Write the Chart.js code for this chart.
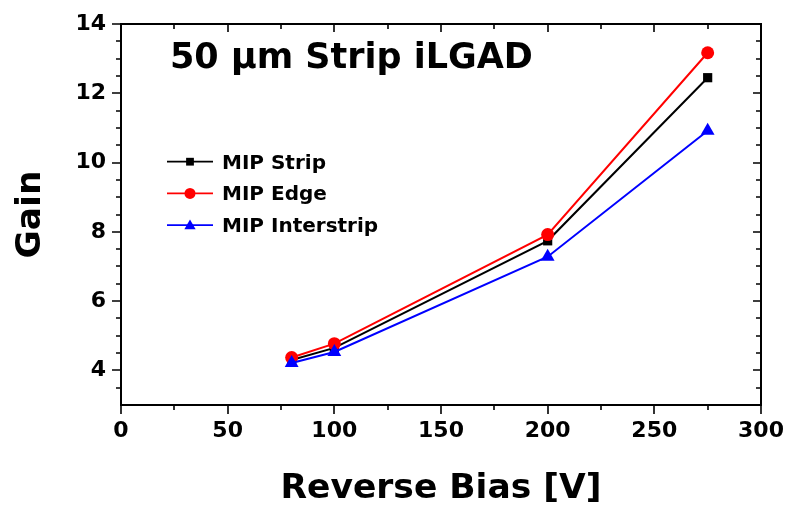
<!DOCTYPE html>
<html>
<head>
<meta charset="utf-8">
<script src="https://cdn.jsdelivr.net/npm/chart.js@4"></script>
<style>
html,body{margin:0;padding:0;background:#fff;}
#wrap{width:791px;height:511px;position:relative;}
</style>
</head>
<body>
<div id="wrap"><canvas id="c" width="791" height="511"></canvas></div>
<script>
// ---- data ----
const biasV = [80, 100, 200, 275];
const gainStrip = [4.30, 4.65, 7.74, 12.45];
const gainEdge = [4.37, 4.77, 7.92, 13.17];
const gainInterstrip = [4.21, 4.53, 7.28, 10.92];
const seriesNames = ['MIP Strip', 'MIP Edge', 'MIP Interstrip'];
const xTickValues = [0, 50, 100, 150, 200, 250, 300];
const xMinorValues = [25, 75, 125, 175, 225, 275];
const yTickValues = [4, 6, 8, 10, 12, 14];
const yMinorValues = [3.5, 4.5, 5, 5.5, 6.5, 7, 7.5, 8.5, 9, 9.5, 10.5, 11, 11.5, 12.5, 13, 13.5];
const chartTitle = '50 µm Strip iLGAD';
const xTitle = 'Reverse Bias [V]';
const yTitle = 'Gain';

const FONT = "'DejaVu Sans', sans-serif";

function pts(ys){ return biasV.map((x,i)=>({x:x, y:ys[i]})); }

const framePlugin = {
  id: 'frame',
  afterDraw(chart){
    const {ctx, chartArea:a, scales:{x, y}} = chart;
    ctx.save();
    ctx.strokeStyle = '#000';
    ctx.lineWidth = 2;
    ctx.strokeRect(a.left, a.top, a.right - a.left, a.bottom - a.top);
    ctx.lineWidth = 1.6;
    ctx.beginPath();
    const tick = (vals, len, inLen) => {
      vals.forEach(v => {
        const px = Math.round(x.getPixelForValue(v));
        ctx.moveTo(px, a.bottom); ctx.lineTo(px, a.bottom + len);
        ctx.moveTo(px, a.top); ctx.lineTo(px, a.top + inLen);
      });
    };
    tick(xTickValues, 9, 8);
    tick(xMinorValues, 5, 5);
    const ytick = (vals, len, inLen) => {
      vals.forEach(v => {
        const py = Math.round(y.getPixelForValue(v));
        ctx.moveTo(a.left, py); ctx.lineTo(a.left - len, py);
        ctx.moveTo(a.right, py); ctx.lineTo(a.right - inLen, py);
      });
    };
    ytick(yTickValues, 9, 8);
    ytick(yMinorValues, 5, 5);
    ctx.stroke();

    // in-plot title
    ctx.fillStyle = '#000';
    ctx.font = 'bold 35px ' + FONT;
    ctx.textBaseline = 'alphabetic';
    ctx.textAlign = 'left';
    ctx.fillText(chartTitle, 170, 68);

    // legend
    ctx.font = 'bold 20px ' + FONT;
    chart.data.datasets.forEach((ds, i) => {
      const cy = 161.7 + i * 31.7;
      ctx.strokeStyle = ds.borderColor;
      ctx.lineWidth = 1.8;
      ctx.beginPath();
      ctx.moveTo(167, cy); ctx.lineTo(213, cy);
      ctx.stroke();
      ctx.fillStyle = ds.pointBackgroundColor;
      const r = ds.pointStyle==='triangle' ? 6.5 : 5.5;
      Chart.helpers.drawPoint(ctx, {pointStyle: ds.pointStyle, rotation: 0, borderWidth: 0, radius: r}, 190, cy + (ds.pointStyle==='triangle'?1:0));
      ctx.fillStyle = '#000';
      ctx.fillText(ds.label, 222, cy + 7);
    });
    ctx.restore();
  }
};

new Chart(document.getElementById('c'), {
  type: 'scatter',
  data: {
    datasets: [
      {label: seriesNames[0], data: pts(gainStrip), showLine: true, borderColor: '#000', backgroundColor: '#000',
       pointBackgroundColor: '#000', pointBorderWidth: 0, pointStyle: 'rect', pointRadius: 6.5, borderWidth: 2, order: 3},
      {label: seriesNames[1], data: pts(gainEdge), showLine: true, borderColor: '#ff0000', backgroundColor: '#ff0000',
       pointBackgroundColor: '#ff0000', pointBorderWidth: 0, pointStyle: 'circle', pointRadius: 6.5, borderWidth: 2, order: 2},
      {label: seriesNames[2], data: pts(gainInterstrip), showLine: true, borderColor: '#0000ff', backgroundColor: '#0000ff',
       pointBackgroundColor: '#0000ff', pointBorderWidth: 0, pointStyle: 'triangle', pointRadius: 8, borderWidth: 2, order: 1}
    ]
  },
  options: {
    responsive: false,
    animation: false,
    devicePixelRatio: 1,
    layout: {padding: {top: 24, right: 30, left: 0, bottom: 0}},
    plugins: {legend: {display: false}, title: {display: false}, tooltip: {enabled: false}},
    scales: {
      x: {
        type: 'linear', min: 0, max: 300,
        afterBuildTicks: s => { s.ticks = xTickValues.map(v => ({value: v})); },
        afterFit: s => { s.height = 106; s.paddingLeft = 0; s.paddingRight = 0; },
        grid: {display: false, drawTicks: false},
        border: {display: false},
        ticks: {color: '#000', font: {family: FONT, size: 22, weight: 'bold'}, padding: 13, maxRotation: 0},
        title: {display: true, text: xTitle, color: '#000', font: {family: FONT, size: 34.5, weight: 'bold'}, padding: {top: 0, bottom: 1}}
      },
      y: {
        type: 'linear', min: 3, max: 14,
        afterBuildTicks: s => { s.ticks = yTickValues.map(v => ({value: v})); },
        afterFit: s => { s.width = 121; s.paddingTop = 0; s.paddingBottom = 0; },
        grid: {display: false, drawTicks: false},
        border: {display: false},
        ticks: {color: '#000', font: {family: FONT, size: 22, weight: 'bold'}, padding: 15},
        title: {display: true, text: yTitle, color: '#000', font: {family: FONT, size: 34.5, weight: 'bold'}, padding: {top: 10, bottom: 0}}
      }
    }
  },
  plugins: [framePlugin]
});
</script>
</body>
</html>
